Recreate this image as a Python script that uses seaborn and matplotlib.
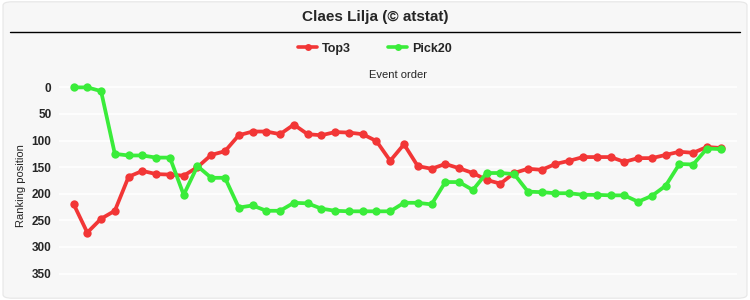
import numpy as np
import pandas as pd
import seaborn as sns
import matplotlib
matplotlib.use("Agg")
import matplotlib.pyplot as plt
from matplotlib.patches import FancyBboxPatch
from matplotlib.lines import Line2D

title = "Claes Lilja (© atstat)"
series_names = ["Top3", "Pick20"]
top3 = [219, 273, 247, 232, 168, 157, 163, 164, 166, 150, 127, 120, 90, 83, 83, 88,
        70, 88, 90, 84, 85, 88, 101, 138, 107, 148, 153, 144, 152, 161, 174, 181,
        161, 153, 155, 144, 138, 131, 131, 131, 140, 133, 133, 127, 121, 123, 112, 114]
pick20 = [0, 0, 7, 125, 128, 128, 132, 132, 202, 148, 170, 170, 226, 222, 232, 232,
          217, 218, 228, 232, 233, 233, 233, 233, 217, 217, 220, 178, 178, 193, 161, 161,
          163, 196, 197, 199, 199, 202, 202, 203, 203, 215, 204, 185, 144, 145, 115, 116]
y_ticks = [0, 50, 100, 150, 200, 250, 300, 350]
colors = {"Top3": "#f23636", "Pick20": "#3aec3a"}

n = len(top3)
df = pd.DataFrame({
    "event": list(range(n)) * 2,
    "rank": top3 + pick20,
    "series": ["Top3"] * n + ["Pick20"] * n,
})

sns.set_style("white")
plt.rcParams["font.family"] = ["Liberation Sans", "DejaVu Sans"]

fig = plt.figure(figsize=(7.5, 3.0), dpi=100, facecolor="white")
bg = FancyBboxPatch((0.004, 0.006), 0.992, 0.988, boxstyle="round,pad=0,rounding_size=0.012",
                    transform=fig.transFigure, facecolor="#f7f7f7", edgecolor="#e6e6e6",
                    linewidth=0.8, zorder=-10)
fig.patches.append(bg)

ax = fig.add_axes([0.078, 0.035, 0.905, 0.695])
ax.set_facecolor("#f7f7f7")
sns.lineplot(data=df, x="event", y="rank", hue="series", palette=colors,
             hue_order=series_names, marker="o", markersize=6, markeredgewidth=0,
             linewidth=2.7, ax=ax, legend=False, zorder=3)

ax.set_ylim(380, -12)
ax.set_xlim(-1.09, 48.2)
ax.set_yticks(y_ticks)
ax.set_yticklabels([str(t) for t in y_ticks], fontweight="bold", fontsize=8.5)
ax.set_xticks([])
ax.tick_params(axis="y", length=0, pad=5)
ax.grid(axis="y", color="white", linewidth=1.2)
ax.set_axisbelow(True)
for s in ax.spines.values():
    s.set_visible(False)
ax.set_ylabel("Ranking position", fontsize=8, labelpad=4)
ax.xaxis.set_label_position("top")
ax.set_xlabel("Event order", fontsize=8, labelpad=2.5)

fig.text(0.5, 0.943, title, ha="center", va="center", fontsize=11, fontweight="bold")
fig.add_artist(Line2D([0.013, 0.987], [0.893, 0.893], transform=fig.transFigure,
                      color="black", linewidth=1))

handles = [Line2D([], [], color=colors[s], marker="o", markersize=5, markeredgewidth=0,
                  linewidth=2.6) for s in series_names]
fig.legend(handles, series_names, loc="center", bbox_to_anchor=(0.5, 0.838), ncol=2,
           frameon=False, prop={"weight": "bold", "size": 9}, handlelength=1.5,
           columnspacing=3.0, handletextpad=0.4)

fig.savefig("out.png", dpi=100, facecolor="white")
